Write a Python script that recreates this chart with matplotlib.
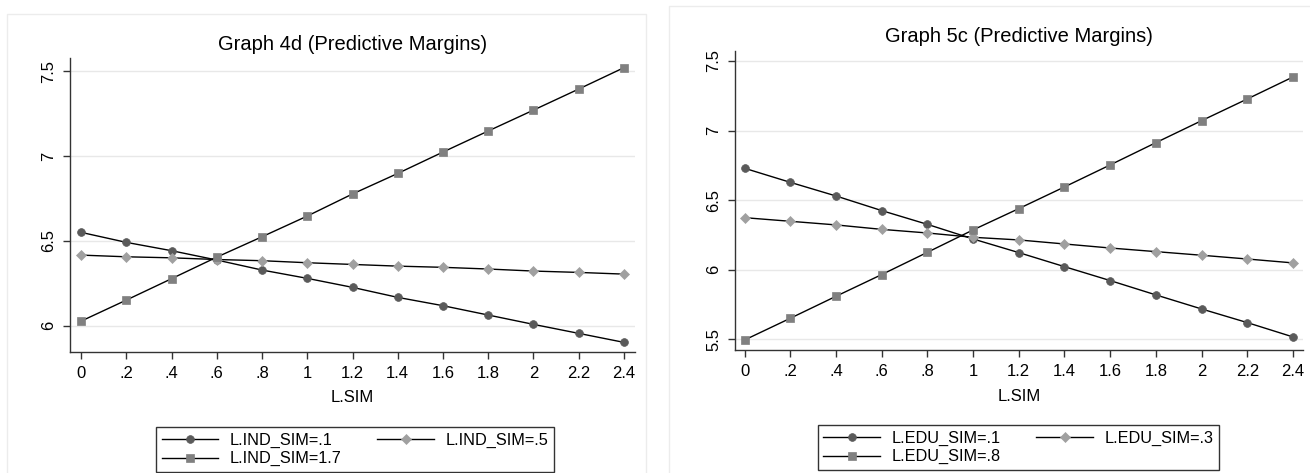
import matplotlib
matplotlib.use("Agg")
import matplotlib.pyplot as plt
from matplotlib.patches import Rectangle

plt.rcParams["font.family"] = ["Liberation Sans", "DejaVu Sans"]

# ------------------------------------------------------------
# data
# ------------------------------------------------------------

sim = [0, 0.2, 0.4, 0.6, 0.8, 1.0, 1.2, 1.4, 1.6, 1.8, 2.0, 2.2, 2.4]
sim_ticklabels = ["0", ".2", ".4", ".6", ".8", "1", "1.2", "1.4", "1.6", "1.8", "2", "2.2", "2.4"]

# Graph 4d
ind_low = [6.550, 6.491, 6.442, 6.387, 6.328, 6.279, 6.226, 6.167, 6.118, 6.063, 6.008, 5.955, 5.902]
ind_mid = [6.416, 6.406, 6.400, 6.390, 6.383, 6.371, 6.361, 6.351, 6.344, 6.334, 6.322, 6.314, 6.304]
ind_high = [6.027, 6.151, 6.277, 6.404, 6.524, 6.646, 6.776, 6.897, 7.023, 7.147, 7.270, 7.394, 7.520]
ind_labels = ["L.IND_SIM=.1", "L.IND_SIM=.5", "L.IND_SIM=1.7"]
ind_yticks = [6, 6.5, 7, 7.5]
ind_yticklabels = ["6", "6.5", "7", "7.5"]

# Graph 5c
edu_low = [6.729, 6.628, 6.530, 6.425, 6.326, 6.221, 6.123, 6.022, 5.922, 5.819, 5.718, 5.620, 5.517]
edu_mid = [6.374, 6.348, 6.322, 6.290, 6.264, 6.233, 6.214, 6.185, 6.156, 6.130, 6.104, 6.077, 6.049]
edu_high = [5.495, 5.651, 5.809, 5.965, 6.125, 6.286, 6.439, 6.595, 6.753, 6.913, 7.071, 7.227, 7.385]
edu_labels = ["L.EDU_SIM=.1", "L.EDU_SIM=.3", "L.EDU_SIM=.8"]
edu_yticks = [5.5, 6, 6.5, 7, 7.5]
edu_yticklabels = ["5.5", "6", "6.5", "7", "7.5"]

# ------------------------------------------------------------
# style
# ------------------------------------------------------------

W, H = 1310, 473
FS = 12
LEG_FS = 11.7
AXIS_COLOR = "#333333"
GRID_COLOR = "#e8e8e8"
BORDER_COLOR = "#ececec"

series_style = [
    dict(marker="o", color="#5a5a5a", ms=5.6),
    dict(marker="D", color="#a0a0a0", ms=4.7),
    dict(marker="s", color="#808080", ms=6.2),
]

fig = plt.figure(figsize=(W / 100, H / 100), dpi=100)
fig.patch.set_facecolor("white")

# faint panel borders
fig.add_artist(Rectangle((7 / W, -0.1), (646 - 7) / W, 1.1 - 14 / H,
                         transform=fig.transFigure, fill=False,
                         edgecolor=BORDER_COLOR, linewidth=1))
fig.add_artist(Rectangle((669 / W, -0.1), 1.2, 1.1 - 6 / H,
                         transform=fig.transFigure, fill=False,
                         edgecolor=BORDER_COLOR, linewidth=1))


def draw_panel(rect, title, series, labels, yticks, yticklabels, ylim, xlim,
               title_y, legend_anchor):
    ax = fig.add_axes(rect)
    for vals, st in zip(series, series_style):
        ax.plot(sim, vals, color="black", linewidth=1.0,
                marker=st["marker"], markersize=st["ms"],
                markerfacecolor=st["color"], markeredgecolor=st["color"],
                markeredgewidth=0.5, zorder=3)

    ax.set_xlim(*xlim)
    ax.set_ylim(*ylim)
    ax.set_xticks(sim)
    ax.set_xticklabels(sim_ticklabels)
    ax.set_yticks(yticks)
    ax.set_yticklabels(yticklabels, rotation=90, va="center")

    for y in yticks:
        ax.axhline(y, color=GRID_COLOR, linewidth=1.0, zorder=1)

    for side in ["top", "right"]:
        ax.spines[side].set_visible(False)
    for side in ["left", "bottom"]:
        ax.spines[side].set_color(AXIS_COLOR)
        ax.spines[side].set_linewidth(1.0)

    ax.tick_params(axis="both", direction="out", length=5, width=1,
                   color=AXIS_COLOR, labelsize=FS, pad=5)
    ax.set_xlabel("L.SIM", fontsize=FS, labelpad=7)

    fig.text(rect[0] + rect[2] / 2, title_y, title, ha="center", va="center",
             fontsize=14.5)

    handles = ax.get_lines()[:3]
    # row-major order in a 2-column legend
    leg = fig.legend([handles[0], handles[2], handles[1]],
                     [labels[0], labels[2], labels[1]],
                     ncol=2, loc="upper center", bbox_to_anchor=legend_anchor,
                     fontsize=LEG_FS, frameon=True, fancybox=False,
                     edgecolor="black", handlelength=3.5, handletextpad=0.7,
                     columnspacing=2.2, borderpad=0.35, labelspacing=0.2)
    leg.get_frame().set_linewidth(1.0)
    return ax


draw_panel([70 / W, 1 - 351.7 / H, 565 / W, (351.7 - 58) / H],
           "Graph 4d (Predictive Margins)",
           [ind_low, ind_mid, ind_high], ind_labels,
           ind_yticks, ind_yticklabels,
           (5.847, 7.577), (-0.049, 2.449),
           1 - 45 / H, (355 / W, 1 - 419 / H))

draw_panel([735 / W, 1 - 350 / H, 568 / W, (350 - 50.7) / H],
           "Graph 5c (Predictive Margins)",
           [edu_low, edu_mid, edu_high], edu_labels,
           edu_yticks, edu_yticklabels,
           (5.423, 7.574), (-0.042, 2.444),
           1 - 37 / H, (1018.5 / W, 1 - 417 / H))

fig.savefig("out.png", dpi=100)
